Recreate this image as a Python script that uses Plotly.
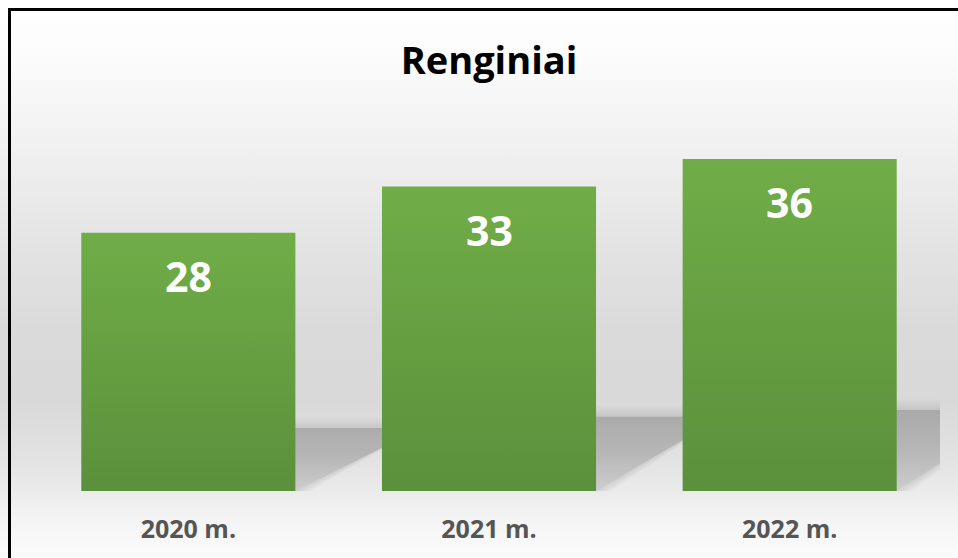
import plotly.graph_objects as go

TITLE = "Renginiai"
YEARS = ["2020 m.", "2021 m.", "2022 m."]
EVENTS = [28, 33, 36]

WIDTH = 958
HEIGHT = 558
# pixel edges of the plot area inside the figure
PLOT_LEFT, PLOT_RIGHT = 38, 940
PLOT_TOP, PLOT_BOTTOM = 122, 491
Y_MAX = 40
BAR_WIDTH = 0.712

# cast shadow behind each bar
SHADOW_RISE = 0.244  # share of the bar height
SHADOW_RUN = 0.42    # in category units

# vertical background gradient, bottom (0) to top (1) of the figure
BG_STOPS = [
    [0.0, "#fbfbfb"],
    [0.07, "#f4f4f4"],
    [0.12, "#ebebeb"],
    [0.18, "#e2e2e2"],
    [0.28, "#d9d9d9"],
    [0.41, "#dadada"],
    [0.55, "#e3e3e3"],
    [0.73, "#f0f0f0"],
    [0.89, "#fbfbfb"],
    [1.0, "#ffffff"],
]
BAR_STOPS = [[0.0, "#5b903c"], [1.0, "#70ad47"]]


def add_background(fig: go.Figure) -> go.Figure:
    fig.add_trace(
        go.Scatter(
            x=[0, 1, 1, 0, 0],
            y=[0, 0, 1, 1, 0],
            mode="lines",
            line=dict(width=0),
            fill="toself",
            fillgradient=dict(type="vertical", colorscale=BG_STOPS),
            hoverinfo="skip",
            xaxis="x",
            yaxis="y",
        )
    )
    return fig


def shadow_polygon(i: int, v: float, grow: float = 0.0):
    xl = i - BAR_WIDTH / 2
    top = SHADOW_RISE * v + grow * 0.22
    xr = i + BAR_WIDTH / 2 + grow * 0.01
    run = SHADOW_RUN
    return [xl, xr, xr + run, xl + run, xl], [0, 0, top, top, 0]


def add_shadows(fig: go.Figure) -> go.Figure:
    for i, v in enumerate(EVENTS):
        # soft edge: a few faint, slightly larger copies
        for grow in (5, 4, 3, 2, 1):
            x, y = shadow_polygon(i, v, grow)
            fig.add_trace(
                go.Scatter(
                    x=x, y=y, mode="lines", line=dict(width=0),
                    fill="toself", fillcolor="rgba(90,90,90,0.03)",
                    hoverinfo="skip", xaxis="x2", yaxis="y2",
                )
            )
        x, y = shadow_polygon(i, v)
        fig.add_trace(
            go.Scatter(
                x=x, y=y, mode="lines", line=dict(width=0),
                fill="toself",
                fillgradient=dict(
                    type="vertical",
                    colorscale=[[0, "rgba(70,70,70,0.05)"], [0.6, "rgba(70,70,70,0.18)"],
                                [1, "rgba(70,70,70,0.22)"]],
                ),
                hoverinfo="skip", xaxis="x2", yaxis="y2",
            )
        )
    return fig


def add_bars(fig: go.Figure) -> go.Figure:
    half = BAR_WIDTH / 2
    for i, v in enumerate(EVENTS):
        fig.add_trace(
            go.Scatter(
                x=[i - half, i - half, i + half, i + half, i - half],
                y=[0, v, v, 0, 0],
                mode="lines",
                line=dict(width=0),
                fill="toself",
                fillgradient=dict(type="vertical", colorscale=BAR_STOPS),
                name=YEARS[i],
                hovertemplate=f"{YEARS[i]}: {v}<extra></extra>",
                xaxis="x2",
                yaxis="y2",
            )
        )
        fig.add_annotation(
            x=i, y=v, xref="x2", yref="y2",
            text=str(v), showarrow=False,
            yanchor="middle", yshift=-43,
            font=dict(family="Open Sans", size=41, color="white", weight="bold"),
        )
    return fig


def update_layout(fig: go.Figure) -> go.Figure:
    fig.update_layout(
        width=WIDTH,
        height=HEIGHT,
        margin=dict(l=0, r=0, t=0, b=0),
        showlegend=False,
        paper_bgcolor="white",
        plot_bgcolor="rgba(0,0,0,0)",
        title=dict(
            text=TITLE, x=489 / WIDTH, xanchor="center",
            y=1 - 61 / HEIGHT, yanchor="middle",
            font=dict(family="Open Sans", size=38, color="black", weight="bold"),
        ),
        xaxis=dict(domain=[0, 1], range=[0, 1], visible=False, fixedrange=True),
        yaxis=dict(domain=[0, 1], range=[0, 1], visible=False, fixedrange=True),
        xaxis2=dict(
            domain=[PLOT_LEFT / WIDTH, PLOT_RIGHT / WIDTH],
            range=[-0.5, len(YEARS) - 0.5],
            anchor="y2",
            tickvals=list(range(len(YEARS))),
            ticktext=YEARS,
            showgrid=False, zeroline=False, showline=False, ticks="",
            ticklabelstandoff=21,
            tickfont=dict(family="Open Sans", size=25, color="#555555", weight="bold"),
            fixedrange=True,
        ),
        yaxis2=dict(
            domain=[1 - PLOT_BOTTOM / HEIGHT, 1 - PLOT_TOP / HEIGHT],
            range=[0, Y_MAX],
            anchor="x2",
            visible=False,
            fixedrange=True,
        ),
    )
    # black frame, its right and bottom sides fall outside the picture
    fig.add_shape(
        type="rect", xref="paper", yref="paper",
        x0=9.5 / WIDTH, y0=-0.2, x1=1.2, y1=1 - 9.5 / HEIGHT,
        line=dict(color="black", width=3), layer="above",
    )
    return fig


fig = go.Figure()
fig = add_background(fig)
fig = add_shadows(fig)
fig = add_bars(fig)
fig = update_layout(fig)
fig.write_html(
    "out.html",
    config=dict(displayModeBar=False),
    post_script="document.body.style.margin='0';document.body.style.overflow='hidden';",
)
